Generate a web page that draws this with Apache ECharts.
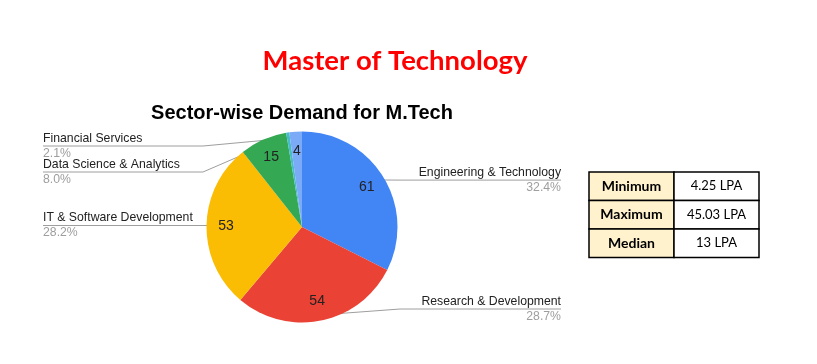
<!DOCTYPE html>
<html>
<head>
<meta charset="utf-8">
<script src="https://cdn.jsdelivr.net/npm/echarts@6/dist/echarts.min.js"></script>
<style>
html,body{margin:0;padding:0;background:#fff;}
#chart{width:817px;height:364px;}
</style>
</head>
<body>
<div id="chart"></div>
<script>
const pageTitle = 'Master of Technology';
const chartTitle = 'Sector-wise Demand for M.Tech';
const sectors = ['Engineering & Technology', 'Research & Development', 'IT & Software Development', 'Data Science & Analytics', 'Other', 'Financial Services'];
const counts = [61, 54, 53, 15, 1, 4];
const sliceColors = ['#4285F4', '#EA4335', '#FBBC04', '#34A853', '#46BDC6', '#7BAAF7'];
const showLabel = [true, true, true, true, false, true];
const statNames = ['Minimum', 'Maximum', 'Median'];
const statValues = ['4.25 LPA', '45.03 LPA', '13 LPA'];

const CX = 302.5, CY = 227, R = 95.5;
const BOX_TOP = 133, BOX_BOTTOM = 322;
const total = counts.reduce((a, b) => a + b, 0);
const chart = echarts.init(document.getElementById('chart'), null, {renderer: 'canvas'});

const pieData = sectors.map((s, i) => ({
  name: s, value: counts[i],
  itemStyle: {color: sliceColors[i]},
  label: {show: showLabel[i]},
  labelLine: {show: showLabel[i]}
}));
const valueData = sectors.map((s, i) => ({
  name: s, value: counts[i],
  label: {show: showLabel[i]}
}));

// table graphic
const tx = 589, ty = 172, c1 = 85, c2 = 85, rh = 28.5;
const tableEls = [];
statNames.forEach((n, i) => {
  tableEls.push({type: 'rect', shape: {x: tx, y: ty + i * rh, width: c1, height: rh},
    style: {fill: '#FFF2CC', stroke: '#000', lineWidth: 1.5}});
  tableEls.push({type: 'rect', shape: {x: tx + c1, y: ty + i * rh, width: c2, height: rh},
    style: {fill: '#fff', stroke: '#000', lineWidth: 1.5}});
  tableEls.push({type: 'text', x: tx + c1 / 2, y: ty + i * rh + rh / 2,
    style: {text: n, fill: '#000', font: 'bold 14px Lato, "Open Sans", sans-serif', align: 'center', verticalAlign: 'middle'}});
  tableEls.push({type: 'text', x: tx + c1 + c2 / 2, y: ty + i * rh + rh / 2,
    style: {text: statValues[i], fill: '#000', font: '13px Lato, "Open Sans", sans-serif', align: 'center', verticalAlign: 'middle'}});
});

chart.setOption({
  animation: false,
  backgroundColor: '#fff',
  title: [
    {text: pageTitle, left: 395, top: 47, textAlign: 'center', padding: 0,
      textStyle: {color: '#FF0000', fontSize: 27.5, fontWeight: 'bold', fontFamily: 'Lato'}},
    {text: chartTitle, left: 302, top: 103, textAlign: 'center', padding: 0,
      textStyle: {color: '#000', fontSize: 20, fontWeight: 'bold', fontFamily: 'Liberation Sans, Arial'}}
  ],
  graphic: tableEls,
  series: [
    {
      type: 'pie',
      left: 43, width: 518, top: BOX_TOP, height: BOX_BOTTOM - BOX_TOP,
      center: ['50%', CY - BOX_TOP],
      radius: R,
      startAngle: 90,
      clockwise: true,
      data: pieData,
      silent: true,
      label: {
        position: 'outer',
        alignTo: 'edge',
        edgeDistance: 0,
        minMargin: -1,
        formatter: function (p) {
          return '{n|' + p.name + '}\n{p|' + (p.value / total * 100).toFixed(1) + '%}';
        },
        rich: {
          n: {fontSize: 12.25, color: '#222', lineHeight: 15, fontFamily: 'Liberation Sans, Arial'},
          p: {fontSize: 12.25, color: '#9E9E9E', lineHeight: 15, fontFamily: 'Liberation Sans, Arial'}
        }
      },
      labelLine: {length: -6, length2: 0, lineStyle: {color: '#9E9E9E', width: 1}},
      labelLayout: function (params) {
        const isLeft = params.labelRect.x < CX;
        const points = params.labelLinePoints;
        if (points) {
          const p0 = points[0];
          const dot = [CX + (p0[0] - CX) * 0.94, CY + (p0[1] - CY) * 0.94];
          const ly = points[2][1];
          points[0] = dot;
          points[1] = [isLeft ? CX - R - 4 : CX + R + 2, ly];
          points[2] = [isLeft ? params.labelRect.x : params.labelRect.x + params.labelRect.width, ly];
        }
        return {labelLinePoints: points};
      }
    },
    {
      type: 'pie',
      left: 43, width: 518, top: BOX_TOP, height: BOX_BOTTOM - BOX_TOP,
      center: ['50%', CY - BOX_TOP],
      radius: [R * 0.53, R],
      startAngle: 90,
      clockwise: true,
      silent: true,
      data: valueData,
      itemStyle: {color: 'rgba(0,0,0,0)'},
      label: {position: 'inside', formatter: '{c}', color: '#222', fontSize: 14, fontFamily: 'Liberation Sans, Arial'},
      labelLine: {show: false}
    }
  ]
});
</script>
</body>
</html>
